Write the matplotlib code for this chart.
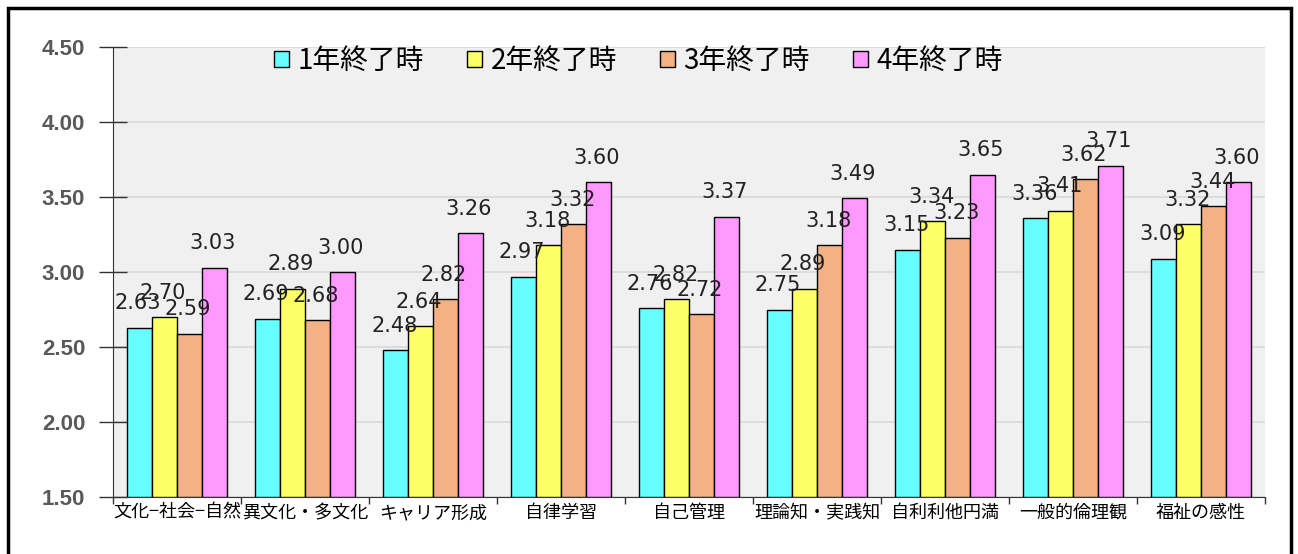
import numpy as np
import matplotlib
matplotlib.use("Agg")
import matplotlib.pyplot as plt
from matplotlib.patches import Rectangle

plt.rcParams['font.family'] = ['Noto Sans CJK JP', 'DejaVu Sans']

# data
categories = ['文化−社会−自然', '異文化・多文化', 'キャリア形成', '自律学習', '自己管理',
              '理論知・実践知', '自利利他円満', '一般的倫理観', '福祉の感性']
series_names = ['1年終了時', '2年終了時', '3年終了時', '4年終了時']
year1 = [2.63, 2.69, 2.48, 2.97, 2.76, 2.75, 3.15, 3.36, 3.09]
year2 = [2.70, 2.89, 2.64, 3.18, 2.82, 2.89, 3.34, 3.41, 3.32]
year3 = [2.59, 2.68, 2.82, 3.32, 2.72, 3.18, 3.23, 3.62, 3.44]
year4 = [3.03, 3.00, 3.26, 3.60, 3.37, 3.49, 3.65, 3.71, 3.60]
colors = ['#66FFFF', '#FFFF66', '#F4B183', '#FF99FF']
yticks = [1.50, 2.00, 2.50, 3.00, 3.50, 4.00, 4.50]

W, H = 1298, 554
fig = plt.figure(figsize=(W / 100, H / 100), dpi=100)
ax = fig.add_axes([113 / W, 1 - 497 / H, 1152 / W, 450 / H])
ax.set_facecolor('#F0F0F0')

# outer frame (bottom edge is off the picture)
fig.patches.append(Rectangle((8 / W, -0.1), 1283 / W, 1.1 - 8 / H,
                             transform=fig.transFigure, fill=False,
                             edgecolor='black', linewidth=2.5))

x = np.arange(len(categories))
width = 0.195
all_series = [year1, year2, year3, year4]
for i, vals in enumerate(all_series):
    pos = x + (i - 1.5) * width
    ax.bar(pos, np.array(vals) - 1.5, width, bottom=1.5, color=colors[i],
           edgecolor='black', linewidth=1.0, label=series_names[i], zorder=3)
    for p, v in zip(pos, vals):
        ax.annotate('%.2f' % v, (p, v), xytext=(-1, 13), textcoords='offset points',
                    ha='center', va='baseline', fontsize=15, color='#222222',
                    family=['DejaVu Sans'], zorder=4)

ax.set_xlim(-0.5, len(categories) - 0.5)
ax.set_ylim(1.5, 4.5)
ax.set_yticks(yticks)
ax.set_yticklabels(['%.2f' % t for t in yticks], fontsize=16, fontweight='bold',
                   color='#595959', family=['Liberation Sans'])
ax.yaxis.grid(True, color='#D9D9D9', linewidth=1.2, zorder=0)
ax.set_axisbelow(True)
ax.tick_params(axis='y', direction='inout', length=20, width=1, color='#333333', pad=10)

ax.set_xticks(x)
ax.set_xticklabels(categories, fontsize=13)
ax.set_xticks(np.arange(-0.5, len(categories)), minor=True)
ax.tick_params(axis='x', which='major', length=0, pad=5)
ax.tick_params(axis='x', which='minor', direction='out', length=5, width=1, color='#333333')

for s in ['top', 'right']:
    ax.spines[s].set_visible(False)
ax.spines['left'].set_color('#333333')
ax.spines['bottom'].set_color('#333333')

ax.legend(loc='center', bbox_to_anchor=(0.456, 0.969), ncol=4, frameon=False,
          fontsize=20, handlelength=0.55, handleheight=0.5, handletextpad=0.3,
          columnspacing=1.55)

fig.savefig('out.png', dpi=100)
